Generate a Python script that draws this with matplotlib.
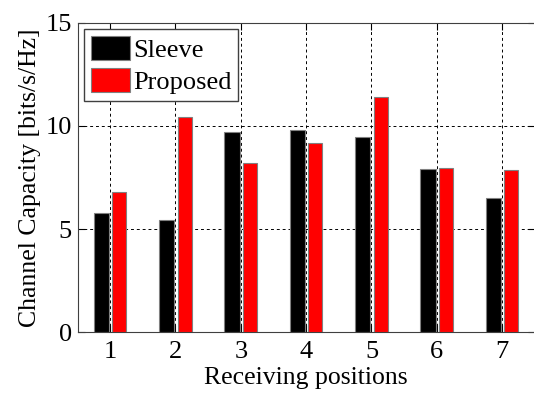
import numpy as np
import matplotlib.pyplot as plt

plt.rcParams["font.family"] = "Liberation Serif"

positions = [1, 2, 3, 4, 5, 6, 7]
sleeve = [5.79, 5.44, 9.69, 9.78, 9.45, 7.90, 6.52]
proposed = [6.79, 10.41, 8.19, 9.18, 11.39, 7.94, 7.86]

fig = plt.figure(figsize=(5.34, 3.94), dpi=100)
ax = fig.add_axes([77.5 / 534, 61.7 / 394, 457.3 / 534, 309.6 / 394])

x = np.array(positions)
ax.bar(x - 0.135, sleeve, 0.235, color="black", edgecolor="#808080", linewidth=0.8,
       label="Sleeve", zorder=3)
ax.bar(x + 0.14, proposed, 0.215, color="red", edgecolor="#808080", linewidth=0.8,
       label="Proposed", zorder=3)

ax.set_xlim(0.5, 7.5)
ax.set_ylim(0, 15)
ax.set_xticks(positions)
ax.set_yticks([0, 5, 10, 15])
ax.grid(True, color="black", linestyle=(0, (3, 3)), linewidth=0.7, zorder=1)
ax.tick_params(direction="in", top=True, right=True, labelsize=19, length=5,
               pad=4)
ax.tick_params(axis="x", pad=6)
for s in ax.spines.values():
    s.set_color("#404040")

ax.set_xlabel("Receiving positions", fontsize=18.5, labelpad=3)
ax.set_ylabel("Channel Capacity [bits/s/Hz]", fontsize=18.5, labelpad=3)

leg = ax.legend(loc="upper left", fontsize=19, fancybox=False, framealpha=1,
                edgecolor="#404040", handlelength=1.5, handleheight=1.0,
                borderaxespad=0.25, labelspacing=0.25, handletextpad=0.1,
                borderpad=0.25)
leg.get_frame().set_linewidth(1.0)

fig.savefig("out.png", dpi=100)
